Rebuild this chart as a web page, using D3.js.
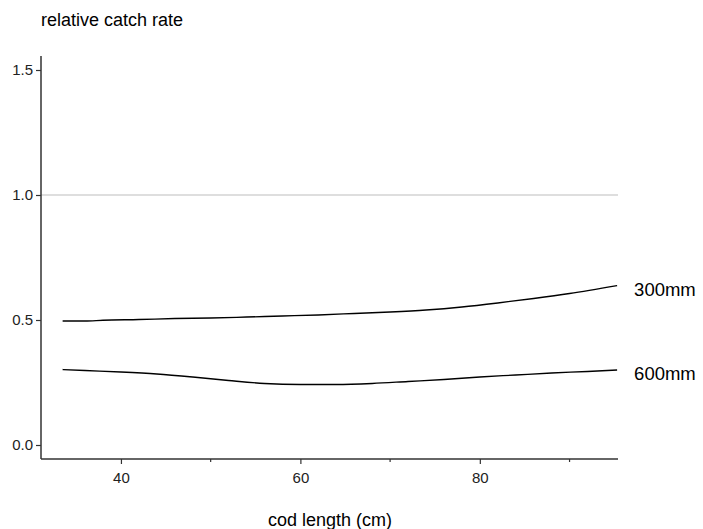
<!DOCTYPE html>
<html>
<head>
<meta charset="utf-8">
<script src="https://cdn.jsdelivr.net/npm/d3@7"></script>
<style>
  body { margin: 0; background: #fff; }
  svg { display: block; font-family: "Liberation Sans", Arial, sans-serif; }
</style>
</head>
<body>
<svg id="chart" width="703" height="529"></svg>
<script>
const lengths300 = [33.5, 36, 38, 42, 46, 50, 54, 58, 62, 66, 70, 74, 78, 82, 86, 90, 95.3];
const values300  = [0.496, 0.496, 0.499, 0.502, 0.506, 0.508, 0.512, 0.516, 0.52, 0.526, 0.532, 0.54, 0.552, 0.568, 0.586, 0.606, 0.638];
const lengths600 = [33.5, 36, 40, 44, 48, 52, 56, 60, 64, 68, 72, 76, 80, 84, 88, 92, 95.3];
const values600  = [0.302, 0.298, 0.292, 0.284, 0.272, 0.258, 0.246, 0.242, 0.242, 0.246, 0.254, 0.262, 0.272, 0.28, 0.288, 0.294, 0.3];
const seriesLabels = ["300mm", "600mm"];
const xMajorTicks = [40, 60, 80];
const xMinorTicks = [50, 70, 90];
const yTicks = [0, 0.5, 1.0, 1.5];
const refLine = 1.0;

const svg = d3.select("#chart");
const mLeft = 41, mRight = 618, mTop = 56, mBottom = 459;

const x = d3.scaleLinear().domain([31.09, 95.4]).range([mLeft, mRight]);
const y = d3.scaleLinear().domain([-0.056, 1.556]).range([mBottom, mTop]);

// reference line
svg.append("line")
  .attr("x1", mLeft).attr("x2", mRight)
  .attr("y1", y(refLine)).attr("y2", y(refLine))
  .attr("stroke", "#bdbdbd").attr("stroke-width", 1);

// lines
const series = [
  {name: seriesLabels[0], xs: lengths300, ys: values300},
  {name: seriesLabels[1], xs: lengths600, ys: values600}
];
const line = d3.line().x(d => x(d[0])).y(d => y(d[1])).curve(d3.curveMonotoneX);
series.forEach(s => {
  const pts = s.xs.map((v, i) => [v, s.ys[i]]);
  svg.append("path").attr("d", line(pts))
    .attr("fill", "none").attr("stroke", "#000").attr("stroke-width", 1.3);
  const last = pts[pts.length - 1];
  svg.append("text")
    .attr("x", x(last[0]) + 17).attr("y", y(last[1]) + 4)
    .attr("dy", "0.35em")
    .attr("font-size", 18.5).attr("fill", "#000")
    .text(s.name);
});

// y axis
const yAxis = d3.axisLeft(y).tickValues(yTicks).tickFormat(d3.format(".1f")).tickSize(5).tickPadding(3);
const gy = svg.append("g").attr("transform", `translate(${mLeft},0)`).call(yAxis);
gy.select(".domain").attr("d", `M0,${mTop}V${mBottom}`).attr("stroke", "#333").attr("stroke-width", 1.5);
gy.selectAll(".tick line").attr("stroke", "#333").attr("stroke-width", 1.2);
gy.selectAll(".tick text").attr("font-size", 15).attr("fill", "#222").attr("font-family", "Liberation Sans, Arial, sans-serif");

// x axis
const xAxis = d3.axisBottom(x).tickValues(xMajorTicks).tickFormat(d3.format("d")).tickSize(5).tickPadding(8);
const gx = svg.append("g").attr("transform", `translate(0,${mBottom})`).call(xAxis);
gx.select(".domain").attr("d", `M${mLeft},0H${mRight}`).attr("stroke", "#333").attr("stroke-width", 1.5);
gx.selectAll(".tick line").attr("stroke", "#333").attr("stroke-width", 1.2);
gx.selectAll(".tick text").attr("font-size", 15).attr("fill", "#222").attr("font-family", "Liberation Sans, Arial, sans-serif");
gx.selectAll(".minor").data(xMinorTicks).enter().append("line")
  .attr("class", "minor")
  .attr("x1", d => x(d)).attr("x2", d => x(d))
  .attr("y1", 0).attr("y2", 3)
  .attr("stroke", "#333").attr("stroke-width", 1.2);

// titles
svg.append("text").attr("x", 41).attr("y", 26)
  .attr("font-size", 18).attr("fill", "#000")
  .text("relative catch rate");
svg.append("text").attr("x", 330).attr("y", 526)
  .attr("text-anchor", "middle")
  .attr("font-size", 18).attr("fill", "#000")
  .text("cod length (cm)");
</script>
</body>
</html>
